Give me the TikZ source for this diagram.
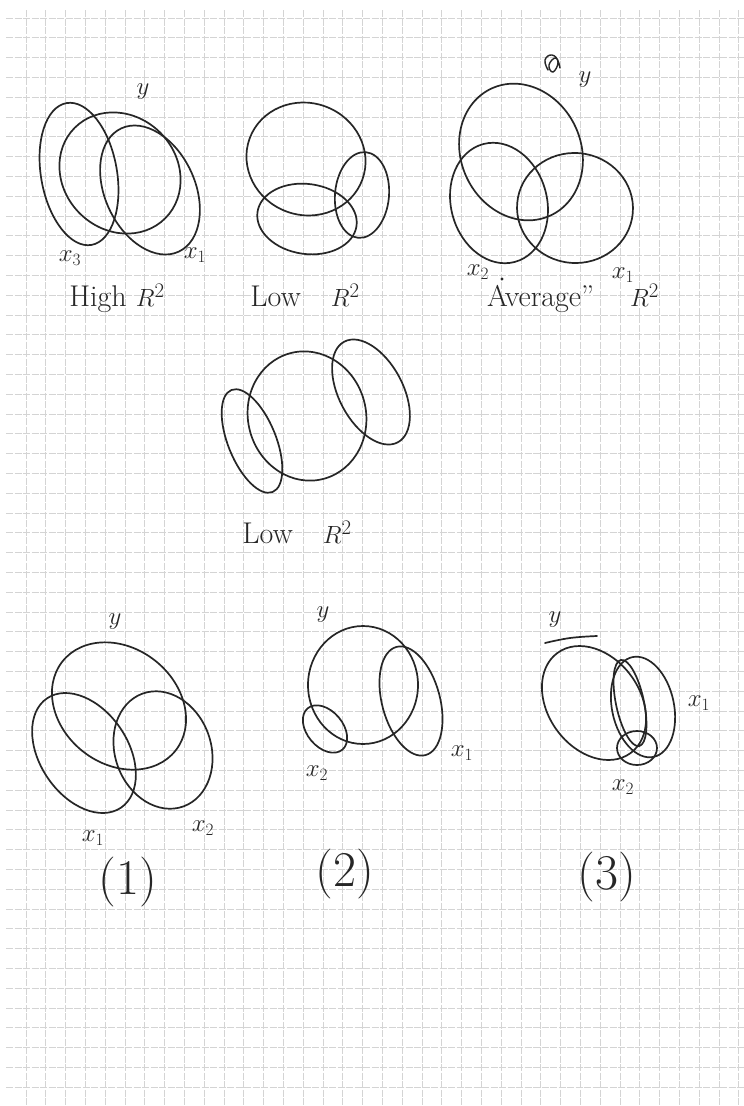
\documentclass[tikz,border=0pt]{standalone}
\usepackage{tikz}
\begin{document}
\begin{tikzpicture}[x=1pt,y=-1pt,
  sk/.style={line width=1.7pt, black!85, line join=round, line cap=round},
  gridl/.style={line width=0.8pt, black!17, dash pattern=on 7pt off 1.5pt},
  lbl/.style={font=\fontsize{24}{28}\selectfont, inner sep=0pt, black!85},
  capt/.style={font=\fontsize{30}{34}\selectfont, inner sep=0pt, black!85},
  num/.style={font=\fontsize{50}{56}\selectfont, inner sep=0pt, black!85}]
\useasboundingbox (0,0) rectangle (744,1106);
\fill[white] (0,0) rectangle (744,1106);
% grid paper
\foreach \i in {0,...,36} {\draw[gridl] ({26+19.8*\i},10) -- ({26+19.8*\i},1106);}
\foreach \j in {0,...,55} {\draw[gridl] (6,{18+19.8*\j}) -- (744,{18+19.8*\j});}

% ---------- Panel 1: High R^2
\draw[sk, rotate around={10:(79,174)}] (79,174) ellipse [x radius=38pt, y radius=72pt];
\draw[sk, rotate around={-45:(120,173)}] (120,173) ellipse [x radius=64pt, y radius=57pt];
\draw[sk, rotate around={25:(150,190)}] (150,190) ellipse [x radius=45pt, y radius=68pt];
\node[lbl] (p1y) at (143,92) {$y$};
\node[lbl] (p1x3) at (70,258) {$x_3$};
\node[lbl] (p1x1) at (195,255) {$x_1$};
\node[capt] (p1c) at (117,298) {High $R^2$};

% ---------- Panel 2: Low R^2
\draw[sk, rotate around={-20:(306,159)}] (306,159) ellipse [x radius=60pt, y radius=56pt];
\draw[sk, rotate around={-8:(307,219)}] (307,219) ellipse [x radius=50pt, y radius=35pt];
\draw[sk, rotate around={-5:(362,195)}] (362,195) ellipse [x radius=27pt, y radius=43pt];
\node[capt] (p2c) at (305,295) {Low\quad $R^2$};

% ---------- Panel 3: "Average" R^2
\draw[sk, rotate around={25:(521,152)}] (521,152) ellipse [x radius=60pt, y radius=70pt];
\draw[sk, rotate around={15:(499,203)}] (499,203) ellipse [x radius=48pt, y radius=61pt];
\draw[sk, rotate around={-5:(575,208)}] (575,208) ellipse [x radius=58pt, y radius=55pt];
\draw[sk, line width=1.4pt] plot[smooth, tension=0.8] coordinates {(548,70) (545,60) (552,55) (558,62) (553,72) (549,65) (556,58) (560,68)};
\fill[black!85] (502,279) circle (1.6pt);
\node[lbl] (p3y) at (585,80) {$y$};
\node[lbl] (p3x2) at (478,272) {$x_2$};
\node[lbl] (p3x1) at (623,275) {$x_1$};
\node[capt] (p3c) at (573,298) {Average''\hspace{36pt}$R^2$};

% ---------- Panel 4: Low R^2
\draw[sk, rotate around={15:(307,416)}] (307,416) ellipse [x radius=59pt, y radius=65pt];
\draw[sk, rotate around={22:(252,441)}] (252,441) ellipse [x radius=24pt, y radius=55pt];
\draw[sk, rotate around={28:(371,392)}] (371,392) ellipse [x radius=32pt, y radius=57pt];
\node[capt] (p4c) at (297,532) {Low\quad $R^2$};

% ---------- Panel 5: (1)
\draw[sk, rotate around={-38:(119,706)}] (119,706) ellipse [x radius=72pt, y radius=58pt];
\draw[sk, rotate around={34:(84,753)}] (84,753) ellipse [x radius=44pt, y radius=66pt];
\draw[sk, rotate around={20:(163,750)}] (163,750) ellipse [x radius=48pt, y radius=60pt];
\node[lbl] (p5y) at (115,622) {$y$};
\node[lbl] (p5x1) at (93,838) {$x_1$};
\node[lbl] (p5x2) at (203,828) {$x_2$};
\node[num] (p5n) at (128,882) {(1)};

% ---------- Panel 6: (2)
\draw[sk] (363,685) ellipse [x radius=55pt, y radius=59pt];
\draw[sk, rotate around={15:(411,701)}] (411,701) ellipse [x radius=29pt, y radius=56pt];
\draw[sk, rotate around={40:(325,729)}] (325,729) ellipse [x radius=18pt, y radius=27pt];
\node[lbl] (p6y) at (323,615) {$y$};
\node[lbl] (p6x1) at (462,753) {$x_1$};
\node[lbl] (p6x2) at (317,773) {$x_2$};
\node[num] (p6n) at (345,874) {(2)};

% ---------- Panel 7: (3)
\draw[sk, rotate around={36:(594,703)}] (594,703) ellipse [x radius=46pt, y radius=62pt];
\draw[sk, rotate around={12:(630,703)}] (630,703) ellipse [x radius=14pt, y radius=44pt];
\draw[sk, rotate around={12:(643,707)}] (643,707) ellipse [x radius=31pt, y radius=51pt];
\draw[sk] (637,748) ellipse [x radius=20pt, y radius=17pt];
\draw[sk] plot[smooth, tension=0.7] coordinates {(545,643) (570,638) (597,636)};
\node[lbl] (p7y) at (555,620) {$y$};
\node[lbl] (p7x1) at (699,703) {$x_1$};
\node[lbl] (p7x2) at (623,787) {$x_2$};
\node[num] (p7n) at (607,877) {(3)};
\end{tikzpicture}
\end{document}
